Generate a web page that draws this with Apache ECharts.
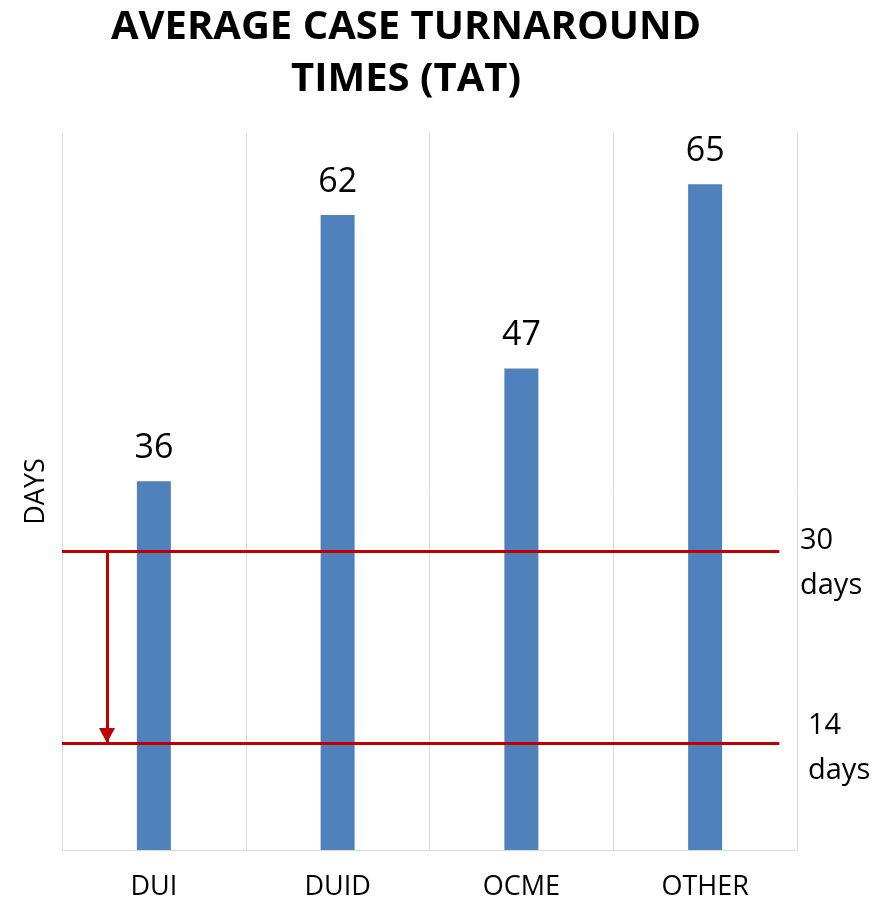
<!DOCTYPE html>
<html>
<head>
<meta charset="utf-8">
<script src="https://cdn.jsdelivr.net/npm/echarts@6/dist/echarts.min.js"></script>
<style>html,body{margin:0;padding:0;background:#fff}#c{width:887px;height:903px}</style>
</head>
<body>
<div id="c"></div>
<script>
// Data
const categories = ['DUI', 'DUID', 'OCME', 'OTHER'];
const tatDays = [36, 62, 47, 65];
// Reference lines as drawn in the picture (value on the days axis) and their labels
const refLineValues = [29.2, 10.4];
const refLineLabels = ['30\ndays', '14\ndays'];
const titleText = 'AVERAGE CASE TURNAROUND\nTIMES (TAT)';

const FONT = '"Open Sans", "Noto Sans", sans-serif';
const RED = '#C00000';

const chart = echarts.init(document.getElementById('c'), null, { renderer: 'canvas' });

const lineEndX = 0.976;   // on hidden 0..1 axis
const arrowX = 0.0612;

chart.setOption({
  animation: false,
  backgroundColor: '#fff',
  title: {
    text: titleText,
    left: 401,
    textAlign: 'center',
    top: -3,
    textStyle: { fontFamily: FONT, fontWeight: 'bold', fontSize: 40, lineHeight: 52, color: '#000' }
  },
  grid: { left: 62, right: 90, top: 133, bottom: 53, containLabel: false },
  xAxis: [{
    type: 'category',
    data: categories,
    boundaryGap: true,
    axisLine: { show: true, lineStyle: { color: '#d9d9d9', width: 1 } },
    axisTick: { show: false },
    splitLine: { show: true, lineStyle: { color: '#d9d9d9', width: 1 } },
    axisLabel: { fontFamily: FONT, fontSize: 27, color: '#000', margin: 24 }
  }, {
    type: 'value', min: 0, max: 1, show: false
  }],
  yAxis: {
    type: 'value',
    min: 0, max: 70,
    axisLine: { show: false },
    axisTick: { show: false },
    axisLabel: { show: false },
    splitLine: { show: false },
    name: 'DAYS',
    nameLocation: 'middle',
    nameRotate: 90,
    nameGap: 12,
    nameTextStyle: { fontFamily: FONT, fontSize: 27, color: '#000' }
  },
  series: [{
    type: 'bar',
    data: tatDays,
    barWidth: 34,
    itemStyle: { color: '#4F81BD' },
    label: { show: true, position: 'top', distance: 16, fontFamily: FONT, fontSize: 34, color: '#000' },
    z: 2
  }, {
    type: 'line',
    xAxisIndex: 1,
    data: [],
    silent: true,
    z: 5,
    markLine: {
      silent: true,
      animation: false,
      label: { show: false },
      lineStyle: { color: RED, width: 3, type: 'solid' },
      data: [
        [{ coord: [0, refLineValues[0]], symbol: 'none' }, { coord: [lineEndX, refLineValues[0]], symbol: 'none' }],
        [{ coord: [0, refLineValues[1]], symbol: 'none' }, { coord: [lineEndX, refLineValues[1]], symbol: 'none' }],
        [{ coord: [arrowX, refLineValues[0]], symbol: 'none' }, { coord: [arrowX, refLineValues[1]], symbol: 'triangle', symbolSize: [16, 15], symbolRotate: 180, symbolOffset: [0, 8] }]
      ]
    }
  }]
});

// Labels for reference lines, positioned from the axis scale
const g = [];
refLineValues.forEach((v, i) => {
  const p = chart.convertToPixel({ xAxisIndex: 1, yAxisIndex: 0 }, [1, v]);
  g.push({
    type: 'text',
    left: i === 0 ? 800 : 808,
    top: p[1] - (i === 0 ? 33 : 40),
    style: { text: refLineLabels[i], font: '29px ' + FONT, fill: '#000', lineHeight: 45 }
  });
});
chart.setOption({ graphic: g });
</script>
</body>
</html>
